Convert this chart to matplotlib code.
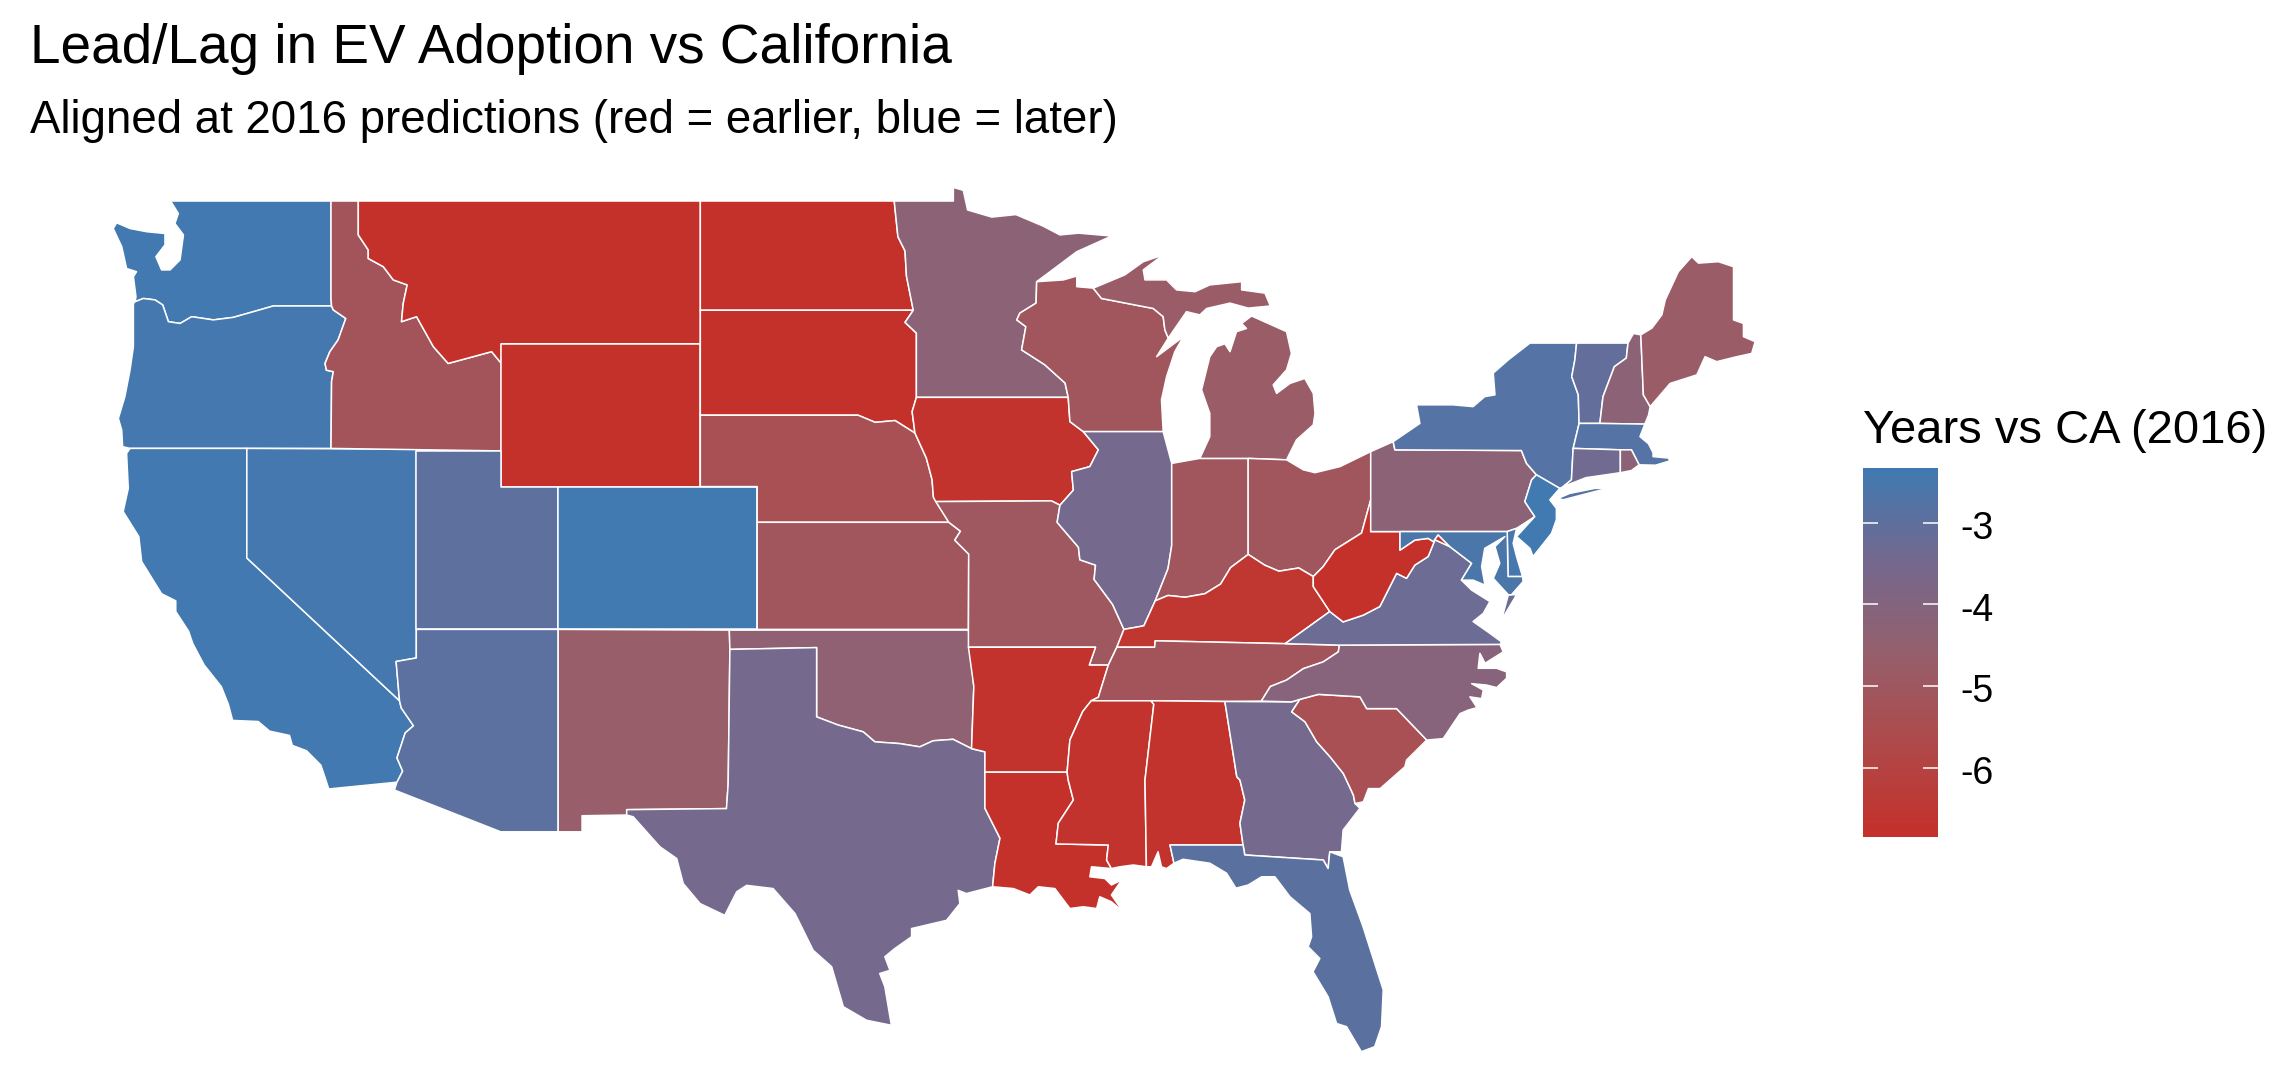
import numpy as np
import matplotlib
matplotlib.use("Agg")
import matplotlib.pyplot as plt
from matplotlib.colors import LinearSegmentedColormap, Normalize
from matplotlib.patches import Polygon

W, H = 2282, 1078
plt.rcParams['font.family'] = ['Liberation Sans', 'DejaVu Sans']

# years vs CA
states = ["WA", "OR", "CA", "NV", "ID", "MT", "WY", "UT", "CO", "AZ", "NM", "ND", "SD", "NE", "KS", "OK",
          "TX", "MN", "IA", "MO", "AR", "LA", "WI", "IL", "IN", "MI", "OH", "KY", "TN", "MS", "AL", "GA",
          "FL", "SC", "NC", "VA", "WV", "PA", "NY", "VT", "NH", "ME", "MA", "CT", "RI", "NJ", "DE", "MD"]
years = [-2.4, -2.45, -2.4, -2.45, -5.2, -6.8, -6.8, -3.0, -2.35, -2.95, -4.7, -6.8, -6.8, -5.4, -5.1, -4.4,
         -3.5, -4.3, -6.7, -5.0, -6.7, -6.8, -5.1, -3.5, -5.1, -4.8, -5.1, -6.6, -5.2, -6.7, -6.7, -3.5,
         -2.9, -5.4, -4.1, -3.3, -6.8, -4.3, -2.8, -3.1, -4.3, -4.8, -2.8, -3.4, -4.3, -2.35, -2.5, -2.6]
legend_ticks = [-3, -4, -5, -6]
fill_min, fill_max = -6.85, -2.33
ramp = ["#C5302A", "#AF4A4A", "#95606D", "#74698F", "#3F7AB2"]

# shared borders
wa_or = [(-123.93, 46.18), (-123.64, 46.27), (-123.23, 46.23), (-122.96, 46.09), (-122.76, 45.62), (-122.35, 45.57),
         (-121.94, 45.76), (-121.18, 45.67), (-120.48, 45.74), (-119.77, 45.9), (-119.07, 46.06), (-117.02, 46.06)]
or_id = [(-116.96, 45.95), (-116.52, 45.71), (-116.79, 45.11), (-117.08, 44.78), (-117.25, 44.45), (-117.2, 44.26),
         (-116.96, 44.22), (-117.02, 43.94), (-117.04, 42.07)]
id_mt = [(-116.08, 49), (-116.08, 48.05), (-115.73, 47.63), (-115.73, 47.39), (-115.2, 47.16), (-114.85, 46.79),
         (-114.36, 46.65), (-114.5, 46.13), (-114.56, 45.62), (-114.03, 45.76), (-113.44, 44.92), (-112.92, 44.45),
         (-112.27, 44.59), (-111.39, 44.78), (-111.1, 44.5)]
tx_ok = [(-99.96, 36.49), (-99.96, 34.55), (-99.2, 34.32), (-98.32, 34.13), (-97.91, 33.85), (-97.03, 33.8),
         (-96.33, 33.71), (-95.86, 33.88), (-95.16, 33.92), (-94.51, 33.66)]
tx_la = [(-94.04, 31.99), (-93.51, 31.15), (-93.69, 30.44), (-93.77, 29.79)]
ms_la = [(-91.11, 32.78), (-90.93, 32.22), (-91.46, 31.57), (-91.54, 30.99), (-89.7, 30.96), (-89.76, 30.54),
         (-89.59, 30.3)]
mn_wi = [(-92.22, 46.74), (-92.24, 46.14), (-92.81, 45.86), (-92.92, 45.67), (-92.6, 45.48), (-92.75, 44.83),
         (-91.93, 44.41), (-91.22, 43.9), (-91.11, 43.5)]
ia_il = [(-90.58, 42.54), (-90.05, 42.03), (-90.35, 41.56), (-90.99, 41.42), (-90.93, 40.9), (-91.4, 40.48)]
wi_mi = [(-90.23, 46.56), (-89.94, 46.27), (-88.12, 45.99), (-87.77, 45.76), (-87.71, 45.39), (-87.59, 45.16)]
oh_ky = [(-82.49, 38.48), (-83, 38.72), (-83.7, 38.63), (-84.2, 38.8), (-84.78, 39.1)]
ohio_in = [(-84.78, 39.1), (-85.4, 38.73), (-85.75, 38.27), (-86.3, 38), (-87, 37.9), (-87.6, 37.95), (-88.05, 37.8)]
ky_wv = [(-81.91, 37.5), (-82.49, 38.2), (-82.49, 38.48)]
wv_va = [(-77.69, 39.32), (-78.21, 39.51), (-78.45, 39.04), (-78.92, 38.8), (-79.21, 38.43), (-79.56, 38.57),
         (-80.15, 37.64), (-80.73, 37.4), (-81.44, 37.21), (-81.91, 37.5)]
oh_wv = [(-80.47, 40.63), (-80.79, 39.7), (-81.73, 39.23), (-82.14, 38.76), (-82.49, 38.48)]
tn_nc = [(-81.57, 36.56), (-81.61, 36.37), (-82.14, 36.09), (-82.84, 35.9), (-83.43, 35.58), (-84, 35.4), (-84.32, 34.99)]
md_wv = [(-78.1, 39.65), (-78.27, 39.46), (-78.45, 39.55), (-78.92, 39.5), (-79.44, 39.22)]
sc_nc = [(-82.96, 35.04), (-82.31, 35.18), (-80.85, 35.11), (-80.61, 34.78), (-79.56, 34.78), (-78.5, 33.9)]
ga_sc = [(-83.25, 34.69), (-82.78, 34.41), (-82.37, 33.85), (-81.9, 33.43), (-81.43, 32.96), (-81.08, 32.36), (-81.02, 32.12)]
ga_al = [(-85.18, 32.87), (-85.07, 32.78), (-84.9, 32.22), (-85.07, 31.57), (-84.96, 30.96)]
ny_pa = [(-75.17, 42.01), (-74.99, 41.65), (-74.64, 41.33)]
vt_ny = [(-73.23, 45.02), (-73.29, 44.55), (-73.4, 44.08), (-73.17, 43.57), (-73.14, 42.77)]
vt_nh = [(-71.42, 45.02), (-71.48, 44.6), (-71.9, 44.36), (-72.3, 43.52), (-72.41, 42.77)]

WA = [(-117.04, 49), (-122.68, 49), (-122.41, 48.65), (-122.53, 48.37), (-122.23, 48.05), (-122.35, 47.35), (-122.7, 47.07),
      (-123, 47.07), (-123.2, 47.44), (-122.88, 47.77), (-122.88, 48.09), (-123.52, 48.14), (-124.11, 48.23), (-124.58, 48.39),
      (-124.7, 48.23), (-124.4, 47.72), (-124.23, 47.11), (-123.88, 47.02), (-123.99, 46.88), (-123.9, 46.32)] + wa_or + [(-117.04, 46.27)]
OR = [(-123.99, 46.13), (-123.99, 44.92), (-124.11, 44.26), (-124.29, 43.52), (-124.52, 42.91), (-124.4, 42.58),
      (-124.37, 42.12), (-124.11, 42.07)] + or_id[::-1] + wa_or[::-1]
CA = [(-124.11, 42.07), (-120, 42.07), (-120, 39), (-114.63, 35), (-114.57, 34.8), (-114.14, 34.3), (-114.43, 34.1),
      (-114.72, 33.4), (-114.52, 33.03), (-114.72, 32.72), (-117.12, 32.53), (-117.25, 32.85), (-117.4, 33.2),
      (-117.9, 33.6), (-118.4, 33.75), (-118.5, 34.03), (-119.2, 34.15), (-119.6, 34.42), (-120.5, 34.45),
      (-120.65, 34.9), (-120.9, 35.4), (-121.5, 36), (-121.9, 36.6), (-122.05, 36.95), (-122.5, 37.5), (-122.5, 37.8),
      (-123, 38), (-123.7, 38.9), (-123.8, 39.6), (-124.35, 40.3), (-124.17, 40.95), (-124.23, 41.93)]
NV = [(-120, 42.07), (-114.04, 42.05), (-114.04, 36.2), (-114.75, 36.1), (-114.63, 35), (-120, 39)]
ID = [(-117.04, 49)] + id_mt + [(-111.05, 44.47), (-111.05, 42)] + or_id[::-1] + [(-117.02, 46.06), (-117.04, 46.27)]
MT = id_mt[::-1] + [(-104.05, 49), (-104.05, 45), (-111.05, 45), (-111.05, 44.47)]
WY = [(-111.05, 45), (-104.05, 45), (-104.05, 41), (-111.05, 41)]
UT = [(-114.04, 42), (-111.05, 42), (-111.05, 41), (-109.05, 41), (-109.05, 37), (-114.04, 37)]
CO = [(-109.05, 41), (-102.05, 41), (-102.05, 37), (-109.05, 37)]
AZ = [(-114.04, 37), (-109.05, 37), (-109.05, 31.33), (-111.07, 31.33), (-114.81, 32.5), (-114.72, 32.72),
      (-114.52, 33.03), (-114.72, 33.4), (-114.43, 34.1), (-114.14, 34.3), (-114.57, 34.8), (-114.63, 35),
      (-114.75, 36.1), (-114.04, 36.2)]
NM = [(-109.05, 37), (-103.03, 36.98), (-103.01, 36.44), (-103.07, 32.68), (-103.13, 31.98), (-106.64, 31.95),
      (-106.64, 31.8), (-108.21, 31.78), (-108.21, 31.33), (-109.05, 31.33)]
ND = [(-104.05, 49), (-97.23, 49), (-97.1, 48), (-96.85, 47.6), (-96.8, 46.9), (-96.56, 45.94), (-104.05, 45.94)]
SD = [(-104.05, 45.94), (-96.56, 45.94), (-96.85, 45.6), (-96.45, 45.3), (-96.45, 43.5), (-96.6, 43.1), (-96.5, 42.5),
      (-97.2, 42.85), (-97.9, 42.8), (-98.5, 43), (-104.05, 43)]
NE = [(-104.05, 43), (-98.5, 43), (-97.9, 42.8), (-97.2, 42.85), (-96.5, 42.5), (-96.1, 41.8), (-95.9, 41.2),
      (-95.85, 40.7), (-95.31, 40), (-102.05, 40), (-102.05, 41), (-104.05, 41)]
KS = [(-102.05, 40), (-95.31, 40), (-94.9, 39.75), (-95.1, 39.5), (-94.61, 39.11), (-94.62, 37), (-102.05, 37)]
OK = [(-103.03, 36.98), (-94.62, 36.98), (-94.43, 35.4)] + tx_ok[::-1] + [(-103.01, 36.44)]
TX = [(-103.01, 36.44)] + tx_ok + [(-94.04, 33.57)] + tx_la + [
      (-94.69, 29.6), (-94.98, 29.69), (-94.92, 29.32), (-95.39, 28.85), (-96.62, 28.62), (-96.62, 28.39), (-97.21, 28.06),
      (-97.56, 27.83), (-97.38, 27.45), (-97.74, 27.36), (-97.56, 26.99), (-97.33, 25.91), (-98.2, 26.05), (-99.02, 26.43),
      (-99.43, 27.55), (-100.08, 28.01), (-100.72, 29.04), (-101.49, 29.74), (-102.42, 29.83), (-102.77, 29.65),
      (-103.19, 28.99), (-104.06, 29.32), (-104.65, 29.88), (-104.88, 30.58), (-105.47, 30.91), (-106.41, 31.75),
      (-106.64, 31.8), (-106.64, 31.95), (-103.13, 31.98), (-103.07, 32.68)]
MN = [(-97.23, 49), (-95.15, 49), (-95.15, 49.38), (-94.8, 49.3), (-94.65, 48.75), (-93.8, 48.55), (-92.95, 48.62),
      (-92, 48.3), (-91.4, 48.05), (-90.75, 48.1), (-89.58, 48.02), (-90.81, 47.58)] + mn_wi + [
      (-96.45, 43.5), (-96.45, 45.3), (-96.85, 45.6), (-96.56, 45.94), (-96.8, 46.9), (-96.85, 47.6), (-97.1, 48)]
IA = [(-96.45, 43.5), (-91.11, 43.5), (-91.05, 42.82)] + ia_il + [(-91.7, 40.6), (-95.77, 40.58), (-95.85, 40.7),
      (-95.9, 41.2), (-96.1, 41.8), (-96.5, 42.5), (-96.6, 43.1)]
MO = [(-95.77, 40.58), (-91.7, 40.6), (-91.4, 40.48), (-91.5, 40), (-90.75, 39.3), (-90.7, 38.95), (-90.15, 38.8),
      (-90.2, 38.4), (-89.55, 37.7), (-89.15, 37), (-89.4, 36.5), (-89.7, 36), (-90.37, 36), (-90.15, 36.5), (-94.62, 36.5),
      (-94.62, 37), (-94.61, 39.11), (-95.1, 39.5), (-94.9, 39.75), (-95.31, 40)]
AR = [(-94.62, 36.5), (-90.15, 36.5), (-90.37, 36), (-89.7, 36), (-90.05, 35.1), (-90.3, 35), (-90.6, 34.7),
      (-91.05, 33.9), (-91.15, 33), (-94.04, 33), (-94.04, 33.57), (-94.51, 33.66), (-94.43, 35.4)]
LA = [(-94.04, 33), (-91.15, 33)] + ms_la + [
      (-90.29, 30.35), (-90.35, 30.07), (-89.82, 30.02), (-89.59, 29.84), (-89.23, 29.98), (-89.59, 29.56), (-89.18, 29.09),
      (-89.59, 29.37), (-90, 29.51), (-90.11, 29.18), (-90.58, 29.23), (-91.05, 29.18), (-91.58, 29.74), (-92.16, 29.79),
      (-92.46, 29.56), (-93.04, 29.74)] + tx_la[::-1]
MS = [(-90.3, 35), (-88.2, 35), (-88.1, 34.9), (-88.41, 32.78), (-88.36, 30.35), (-88.82, 30.4), (-89.29, 30.35)] + \
     ms_la[::-1] + [(-91.15, 33), (-91.05, 33.9), (-90.6, 34.7)]
AL = [(-88.2, 35), (-85.6, 34.98)] + ga_al + [(-87.53, 30.96), (-87.39, 30.45), (-87.65, 30.3), (-87.83, 30.35),
      (-87.95, 30.77), (-88.18, 30.35), (-88.36, 30.35), (-88.41, 32.78), (-88.1, 34.9)]
GA = [(-85.6, 34.98), (-83.25, 34.97), (-82.96, 35.04)] + ga_sc + [(-80.85, 31.99), (-81.44, 31.38), (-81.5, 30.77),
      (-81.91, 30.77), (-81.97, 30.3), (-82.14, 30.54), (-84.9, 30.68)] + ga_al[::-1]
FL = [(-87.53, 30.96), (-84.96, 30.96), (-84.9, 30.68), (-82.14, 30.54), (-81.97, 30.3), (-81.91, 30.77), (-81.44, 30.63),
      (-81.21, 29.7), (-80.74, 28.67), (-80.03, 26.9), (-80.09, 25.87), (-80.33, 25.31), (-80.8, 25.17), (-81.32, 25.87),
      (-81.67, 25.96), (-81.97, 26.71), (-82.5, 27.41), (-82.26, 27.78), (-82.67, 28.11), (-82.55, 28.39), (-82.61, 29.04),
      (-83.31, 29.51), (-83.84, 30.07), (-84.31, 30.07), (-84.78, 29.84), (-85.21, 29.75), (-85.54, 30.17), (-86.13, 30.45),
      (-87.07, 30.56), (-87.39, 30.45)]
SC = sc_nc + [(-79.21, 33.34), (-79.27, 33.15), (-80.14, 32.54), (-80.55, 32.54), (-80.73, 32.17)] + ga_sc[::-1]
NC = [(-84.32, 34.99), (-83.25, 34.97)] + sc_nc + [(-77.92, 33.94), (-77.33, 34.64), (-77.04, 34.74), (-76.28, 34.91),
      (-76.75, 34.83), (-76.98, 35.11), (-76.57, 35.06), (-76.51, 35.3), (-76.92, 35.48), (-76.39, 35.44), (-76.04, 35.37),
      (-75.69, 35.63), (-75.69, 35.81), (-76.04, 35.91), (-76.69, 35.91), (-76.63, 36.33), (-76.45, 36.05), (-75.81, 36.37),
      (-75.92, 36.58)] + tn_nc[:-1]
TN = [(-90.3, 35), (-90.05, 35.1), (-89.7, 36), (-89.4, 36.5), (-88.07, 36.5), (-88.05, 36.68), (-83.48, 36.6)] + tn_nc + \
     [(-85.6, 34.98), (-88.2, 35)]
KY = [(-89.15, 37), (-89.4, 36.5), (-88.07, 36.5), (-88.05, 36.68), (-83.48, 36.6)] + ky_wv + oh_ky[1:] + ohio_in[1:] + [(-88.45, 37.1)]
IL = [(-90.58, 42.54), (-87.77, 42.54), (-87.47, 41.65), (-87.47, 39.35), (-87.6, 38.7), (-87.95, 38), (-88.05, 37.8),
      (-88.45, 37.1), (-89.15, 37), (-89.55, 37.7), (-90.2, 38.4), (-90.15, 38.8), (-90.7, 38.95), (-90.75, 39.3), (-91.5, 40)] + ia_il[::-1]
IN = [(-87.47, 41.65), (-86.48, 41.79), (-84.78, 41.79)] + ohio_in + [(-87.95, 38), (-87.6, 38.7), (-87.47, 39.35)]
OH = [(-84.78, 41.79), (-83.43, 41.75), (-82.84, 41.47), (-82.43, 41.39), (-81.55, 41.56), (-80.47, 41.98)] + oh_wv + oh_ky[1:]
WV = [(-80.47, 40.63), (-80.47, 39.74), (-79.44, 39.74), (-79.44, 39.22)] + md_wv[::-1][1:] + wv_va + ky_wv[1:] + oh_wv[::-1][1:-1]
VA = [(-83.48, 36.6), (-81.57, 36.56), (-75.92, 36.58), (-75.87, 36.65), (-76.28, 36.89), (-76.87, 37.22), (-76.51, 37.45),
      (-76.28, 37.78), (-76.92, 38.1), (-77.28, 38.38), (-76.92, 38.85)] + wv_va
VA_shore = [(-75.87, 37.26), (-75.34, 37.97), (-75.63, 37.97)]
MD = [(-79.44, 39.74), (-75.67, 39.74), (-75.64, 38.48), (-75.13, 38.48), (-75.11, 38.34), (-75.52, 37.97), (-75.63, 37.97),
      (-76.16, 38.43), (-75.93, 38.85), (-76.1, 39.32), (-75.75, 39.6), (-76.46, 39.27), (-76.57, 38.76), (-76.45, 38.24),
      (-76.87, 38.38), (-77.28, 38.38), (-76.92, 38.85), (-77.69, 39.32)] + md_wv
DE = [(-75.67, 39.74), (-75.34, 39.83), (-75.46, 39.41), (-75.34, 39.04), (-75.13, 38.48), (-75.64, 38.48)]
PA = [(-80.47, 41.98), (-79.68, 42.26), (-79.62, 42.03)] + ny_pa + [(-74.81, 41.19), (-75.05, 40.58), (-74.7, 40.16),
      (-75.34, 39.83), (-75.67, 39.74), (-80.47, 39.74)]
NY = [(-79.68, 42.26), (-78.74, 42.77), (-78.86, 43.29), (-77.57, 43.29), (-76.87, 43.24), (-76.46, 43.52), (-76.1, 43.57),
      (-76.16, 44.18), (-75.63, 44.55), (-74.87, 45.02)] + vt_ny + [(-73.35, 42.07), (-73.41, 41.19), (-73.7, 41), (-73.82, 40.95)] + \
     ny_pa[::-1] + [(-79.62, 42.03)]
NY_island = [(-73.88, 40.67), (-73.47, 40.81), (-72.59, 40.95), (-72.12, 40.95), (-72.59, 40.86), (-73.7, 40.63)]
NJ = [(-74.64, 41.33), (-73.82, 40.95), (-74.17, 40.63), (-73.94, 40.39), (-73.94, 40.07), (-74.11, 39.69), (-74.76, 39.04),
      (-74.87, 39.27), (-75.34, 39.6), (-74.7, 40.16), (-75.05, 40.58), (-74.81, 41.19)]
CT = [(-73.35, 42.07), (-71.69, 42.03), (-71.69, 41.39), (-72.9, 41.25), (-73.7, 41), (-73.41, 41.19)]
RI = [(-71.69, 42.03), (-71.3, 42.03), (-71.03, 41.61), (-71.3, 41.45), (-71.69, 41.39)]
MA = [(-73.35, 42.07), (-73.14, 42.77), (-72.41, 42.77), (-70.83, 42.75), (-71, 42.4), (-70.7, 42.2), (-70.54, 41.95),
      (-70.54, 41.84), (-70, 41.8), (-69.95, 41.72), (-70.45, 41.6), (-71.03, 41.61), (-71.3, 42.03), (-71.69, 42.03)]
VT = vt_nh + vt_ny[::-1]
NH = [(-71.42, 45.02), (-71.23, 45.29), (-70.97, 45.25), (-70.88, 43.57), (-70.64, 43.24), (-70.7, 43), (-70.83, 42.75)] + vt_nh[::-1][:-1]
ME = [(-70.97, 45.25), (-70.58, 45.44), (-70.23, 45.81), (-70.11, 46.23), (-69.65, 47.02), (-69.18, 47.44), (-68.94, 47.26),
      (-68.24, 47.3), (-67.71, 47.16), (-67.71, 45.67), (-67.36, 45.57), (-67.36, 45.2), (-66.95, 45.06), (-67.07, 44.73),
      (-67.59, 44.64), (-68.3, 44.5), (-68.71, 44.64), (-69, 44.13), (-69.94, 43.89), (-70.64, 43.24), (-70.88, 43.57)]
MI = [(-86.48, 41.79), (-84.78, 41.79), (-83.43, 41.75), (-83.08, 42.31), (-82.49, 42.73), (-82.43, 43.05), (-82.49, 43.61),
      (-82.79, 44.03), (-83.31, 43.89), (-83.78, 43.61), (-83.9, 43.85), (-83.43, 44.27), (-83.26, 44.73), (-83.43, 45.34),
      (-84.66, 45.78), (-85.01, 45.57), (-84.84, 45.43), (-85.19, 45.34), (-85.42, 44.78), (-85.6, 45), (-85.89, 44.92),
      (-86.13, 44.64), (-86.42, 43.71), (-86.13, 43.05), (-86.13, 42.4)]
MI_upper = wi_mi + [(-86.95, 45.9), (-86.48, 45.81), (-86.24, 45.99), (-85.42, 46.14), (-84.78, 46), (-84, 46.06), (-84.19, 46.42),
      (-85.01, 46.51), (-85.01, 46.74), (-86.13, 46.65), (-86.65, 46.46), (-87.3, 46.51), (-87.65, 46.79), (-88.41, 46.79),
      (-88.47, 47.07), (-87.77, 47.49), (-88.47, 47.3), (-89.12, 46.93)]
WI = [(-92.22, 46.74), (-91.28, 46.79), (-90.81, 46.9), (-90.81, 46.6)] + wi_mi + [(-88, 44.64), (-87.06, 45.2), (-87.36, 44.78),
      (-87.65, 44.08), (-87.83, 43.43), (-87.77, 42.54), (-90.58, 42.54), (-91.05, 42.82)] + mn_wi[::-1]

outlines = {"WA": [WA], "OR": [OR], "CA": [CA], "NV": [NV], "ID": [ID], "MT": [MT], "WY": [WY], "UT": [UT], "CO": [CO],
            "AZ": [AZ], "NM": [NM], "ND": [ND], "SD": [SD], "NE": [NE], "KS": [KS], "OK": [OK], "TX": [TX], "MN": [MN],
            "IA": [IA], "MO": [MO], "AR": [AR], "LA": [LA], "WI": [WI], "IL": [IL], "IN": [IN], "MI": [MI, MI_upper],
            "OH": [OH], "KY": [KY], "TN": [TN], "MS": [MS], "AL": [AL], "GA": [GA], "FL": [FL], "SC": [SC], "NC": [NC],
            "VA": [VA, VA_shore], "WV": [WV], "PA": [PA], "NY": [NY, NY_island], "VT": [VT], "NH": [NH], "ME": [ME],
            "MA": [MA], "CT": [CT], "RI": [RI], "NJ": [NJ], "DE": [DE], "MD": [MD]}

cmap = LinearSegmentedColormap.from_list("lag", ramp)
norm = Normalize(fill_min, fill_max)


def px_axes(fig, left, top, right, bottom):
    return fig.add_axes([left / W, 1 - bottom / H, (right - left) / W, (bottom - top) / H])


fig = plt.figure(figsize=(W / 100, H / 100), dpi=100, facecolor="white")

# map: lon/lat with a plain linear scale, 28.43 px/deg across and 35.7 px/deg down
ax = px_axes(fig, 104.7, 179.6, 1767.9, 1064.9)
ax.set_xlim(-125, -66.5)
ax.set_ylim(24.8, 49.6)
ax.axis("off")
for name, val in zip(states, years):
    for part in outlines[name]:
        ax.add_patch(Polygon(part, closed=True, facecolor=cmap(norm(val)), edgecolor="white", linewidth=1.1,
                             joinstyle="round"))

# colour legend
cax = px_axes(fig, 1863, 468, 1938, 837)
grad = np.linspace(fill_min, fill_max, 256).reshape(-1, 1)
cax.imshow(grad, cmap=cmap, norm=norm, origin="lower", aspect="auto", extent=(0, 1, fill_min, fill_max))
cax.axis("off")
for t in legend_ticks:
    cax.plot([0, 0.2], [t, t], color="white", lw=1.1, solid_capstyle="butt")
    cax.plot([0.8, 1], [t, t], color="white", lw=1.1, solid_capstyle="butt")
    cax.text(1.3, t - 0.03, str(t), fontsize=27, va="center_baseline", ha="left", color="black")
cax.set_xlim(0, 1)
cax.set_ylim(fill_min, fill_max)

fig.text(30 / W, 1 - 63 / H, "Lead/Lag in EV Adoption vs California", fontsize=39.5, color="black", va="baseline")
fig.text(30 / W, 1 - 133 / H, "Aligned at 2016 predictions (red = earlier, blue = later)", fontsize=32.9,
         color="black", va="baseline")
fig.text(1863 / W, 1 - 443 / H, "Years vs CA (2016)", fontsize=33.9, color="black", va="baseline")

fig.savefig("out.png", dpi=100)
